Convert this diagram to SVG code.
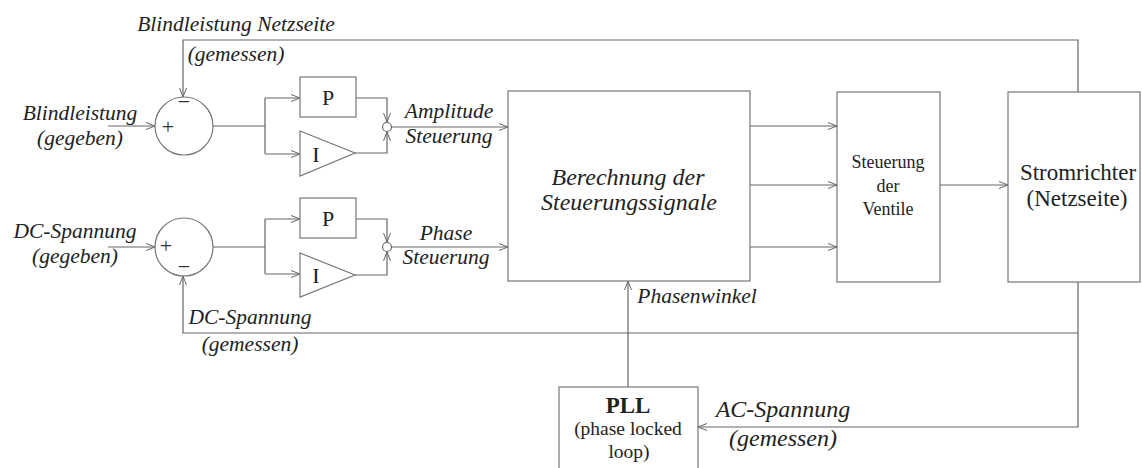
<svg xmlns="http://www.w3.org/2000/svg" width="1142" height="468" viewBox="0 0 1142 468">
<style>
.ln{fill:none;stroke:#666;stroke-width:1.2}
.bx{fill:#fff;stroke:#777;stroke-width:1.2}
.it{font-family:"Liberation Serif",serif;font-style:italic;font-size:21.5px;fill:#222;text-anchor:middle}
.rg{font-family:"Liberation Serif",serif;fill:#222;text-anchor:middle}
.sg{font-family:"Liberation Serif",serif;font-size:22px;fill:#333;text-anchor:middle}
</style>
<defs>
<marker id="ar" viewBox="0 0 10 8" refX="9" refY="4" markerWidth="10" markerHeight="8" markerUnits="userSpaceOnUse" orient="auto">
<path d="M0,0.5 L9,4 L0,7.5" fill="none" stroke="#666" stroke-width="1"/>
</marker>
</defs>
<rect width="1142" height="468" fill="#fff"/>

<g id="connectors">
<path class="ln" d="M108,126 H155" marker-end="url(#ar)"/>
<path class="ln" d="M108,247 H155" marker-end="url(#ar)"/>
<path class="ln" d="M213,126 H265 M265,98 V154"/>
<path class="ln" d="M265,98 H300" marker-end="url(#ar)"/>
<path class="ln" d="M265,154 H300" marker-end="url(#ar)"/>
<path class="ln" d="M213,247 H265 M265,219 V274"/>
<path class="ln" d="M265,219 H300" marker-end="url(#ar)"/>
<path class="ln" d="M265,274 H300" marker-end="url(#ar)"/>
<path class="ln" d="M356,98 H387 V122" marker-end="url(#ar)"/>
<path class="ln" d="M355,153 H387 V132" marker-end="url(#ar)"/>
<path class="ln" d="M356,219 H387 V242" marker-end="url(#ar)"/>
<path class="ln" d="M355,275 H387 V252" marker-end="url(#ar)"/>
<circle class="ln" cx="387" cy="127" r="4.5"/>
<circle class="ln" cx="387" cy="247" r="4.5"/>
<path class="ln" d="M391.5,127 H508" marker-end="url(#ar)"/>
<path class="ln" d="M391.5,247 H508" marker-end="url(#ar)"/>
<path class="ln" d="M750,126 H837" marker-end="url(#ar)"/>
<path class="ln" d="M750,185 H837" marker-end="url(#ar)"/>
<path class="ln" d="M750,247 H837" marker-end="url(#ar)"/>
<path class="ln" d="M940,185 H1008" marker-end="url(#ar)"/>
<path class="ln" d="M1078,92 V40 H183 V97" marker-end="url(#ar)"/>
<path class="ln" d="M1078,282 V427 H698" marker-end="url(#ar)"/>
<path class="ln" d="M1078,333 H183 V276" marker-end="url(#ar)"/>
<path class="ln" d="M628,387 V281" marker-end="url(#ar)"/>
</g>

<g id="sum1">
<circle class="bx" cx="184" cy="126" r="29"/>
<text class="sg" x="184" y="109">−</text>
<text class="sg" x="168" y="134">+</text>
</g>
<g id="sum2">
<circle class="bx" cx="184" cy="247" r="29"/>
<text class="sg" x="166" y="253">+</text>
<text class="sg" x="184" y="274">−</text>
</g>
<g id="p1">
<rect class="bx" x="300" y="77" width="56" height="40"/>
<text class="rg" x="328" y="105" font-size="22">P</text>
</g>
<g id="i1">
<path class="bx" d="M300,131 L355,153 L300,176 Z"/>
<text class="rg" x="316" y="162" font-size="22">I</text>
</g>
<g id="p2">
<rect class="bx" x="300" y="198" width="56" height="40"/>
<text class="rg" x="328" y="226" font-size="22">P</text>
</g>
<g id="i2">
<path class="bx" d="M300,253 L355,275 L300,297 Z"/>
<text class="rg" x="316" y="283" font-size="22">I</text>
</g>
<g id="berechnung">
<rect class="bx" x="508" y="91" width="242" height="190"/>
<text class="it" x="628" y="185" font-size="24" style="font-size:24px">Berechnung der</text>
<text class="it" x="629" y="210" style="font-size:24px">Steuerungssignale</text>
</g>
<g id="ventile">
<rect class="bx" x="837" y="92" width="103" height="190"/>
<text class="rg" x="888" y="168" font-size="18">Steuerung</text>
<text class="rg" x="888" y="192" font-size="18">der</text>
<text class="rg" x="888" y="215" font-size="18">Ventile</text>
</g>
<g id="stromrichter">
<rect class="bx" x="1008" y="92" width="132" height="190"/>
<text class="rg" x="1078" y="180" font-size="23">Stromrichter</text>
<text class="rg" x="1077" y="206" font-size="23">(Netzseite)</text>
</g>
<g id="pll">
<rect class="bx" x="559" y="387" width="139" height="90"/>
<text class="rg" x="628" y="413" font-size="23" font-weight="bold">PLL</text>
<text class="rg" x="628" y="435" font-size="19.5">(phase locked</text>
<text class="rg" x="629" y="458" font-size="19.5">loop)</text>
</g>

<g id="labels">
<text class="it" x="236" y="31">Blindleistung Netzseite</text>
<text class="it" x="236" y="61">(gemessen)</text>
<text class="it" x="80" y="120">Blindleistung</text>
<text class="it" x="80" y="145">(gegeben)</text>
<text class="it" x="75" y="238">DC-Spannung</text>
<text class="it" x="75" y="263">(gegeben)</text>
<text class="it" x="250" y="324">DC-Spannung</text>
<text class="it" x="250" y="351">(gemessen)</text>
<text class="it" x="449" y="118">Amplitude</text>
<text class="it" x="449" y="143">Steuerung</text>
<text class="it" x="446" y="240">Phase</text>
<text class="it" x="446" y="264">Steuerung</text>
<text class="it" x="697" y="303">Phasenwinkel</text>
<text class="it" x="783" y="417" style="font-size:24px">AC-Spannung</text>
<text class="it" x="783" y="446" style="font-size:24px">(gemessen)</text>
</g>
</svg>
